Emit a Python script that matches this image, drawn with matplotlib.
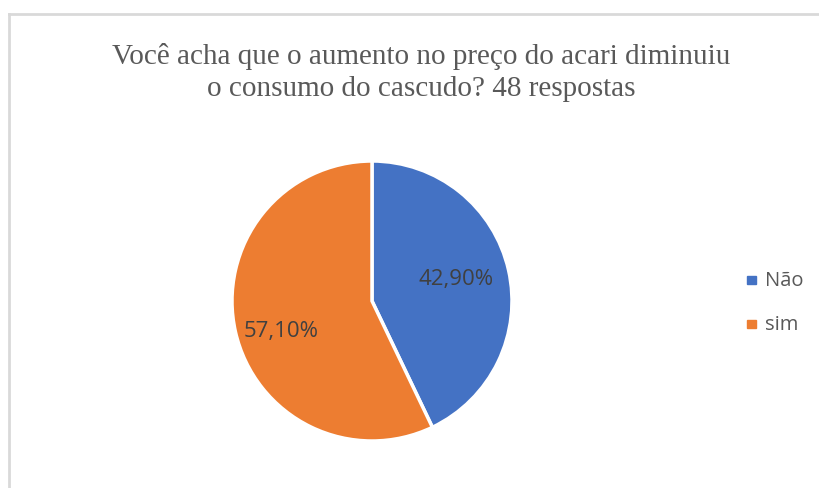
import matplotlib.pyplot as plt
from matplotlib.lines import Line2D

labels = ['Não', 'sim']
values = [42.9, 57.1]
pct_text = ['42,90%', '57,10%']
colors = ['#4472C4', '#ED7D31']

W, H = 819, 489
fig = plt.figure(figsize=(W / 100, H / 100), dpi=100)

# chart border (only top and left visible)
fig.add_artist(Line2D([9 / W, 9 / W], [0, 1 - 15 / H], color='#d9d9d9', lw=2))
fig.add_artist(Line2D([9 / W, 1], [1 - 15 / H, 1 - 15 / H], color='#d9d9d9', lw=2))

# pie axes: center (372, 302), radius 140 px
cx, cy, r = 372, 302, 140
ax = fig.add_axes([(cx - r) / W, 1 - (cy + r) / H, 2 * r / W, 2 * r / H])
wedges, _ = ax.pie(values, colors=colors, startangle=90, counterclock=False,
                   wedgeprops=dict(edgecolor='white', linewidth=2.5))
ax.set_xlim(-1, 1)
ax.set_ylim(-1, 1)
ax.set_aspect('equal')

# data labels
ax.text(0.6, 0.16, pct_text[0], ha='center', va='center', fontsize=16,
        color='#404040', family='Open Sans')
ax.text(-0.65, -0.21, pct_text[1], ha='center', va='center', fontsize=16,
        color='#404040', family='Open Sans')

fig.text(421 / W, 1 - 56 / H, 'Você acha que o aumento no preço do acari diminuiu',
         ha='center', va='center', fontsize=21, color='#595959', family='Liberation Serif')
fig.text(421 / W, 1 - 89 / H, 'o consumo do cascudo? 48 respostas',
         ha='center', va='center', fontsize=21, color='#595959', family='Liberation Serif')

# legend
for i, lab in enumerate(labels):
    y = 1 - (281 + i * 44) / H
    fig.patches.append(plt.Rectangle((747 / W, y - 4 / H), 9 / W, 8 / H,
                                     transform=fig.transFigure, color=colors[i]))
    fig.text(765 / W, y, lab, ha='left', va='center', fontsize=14.5,
             color='#595959', family='Open Sans')

fig.savefig('out.png', dpi=100)
